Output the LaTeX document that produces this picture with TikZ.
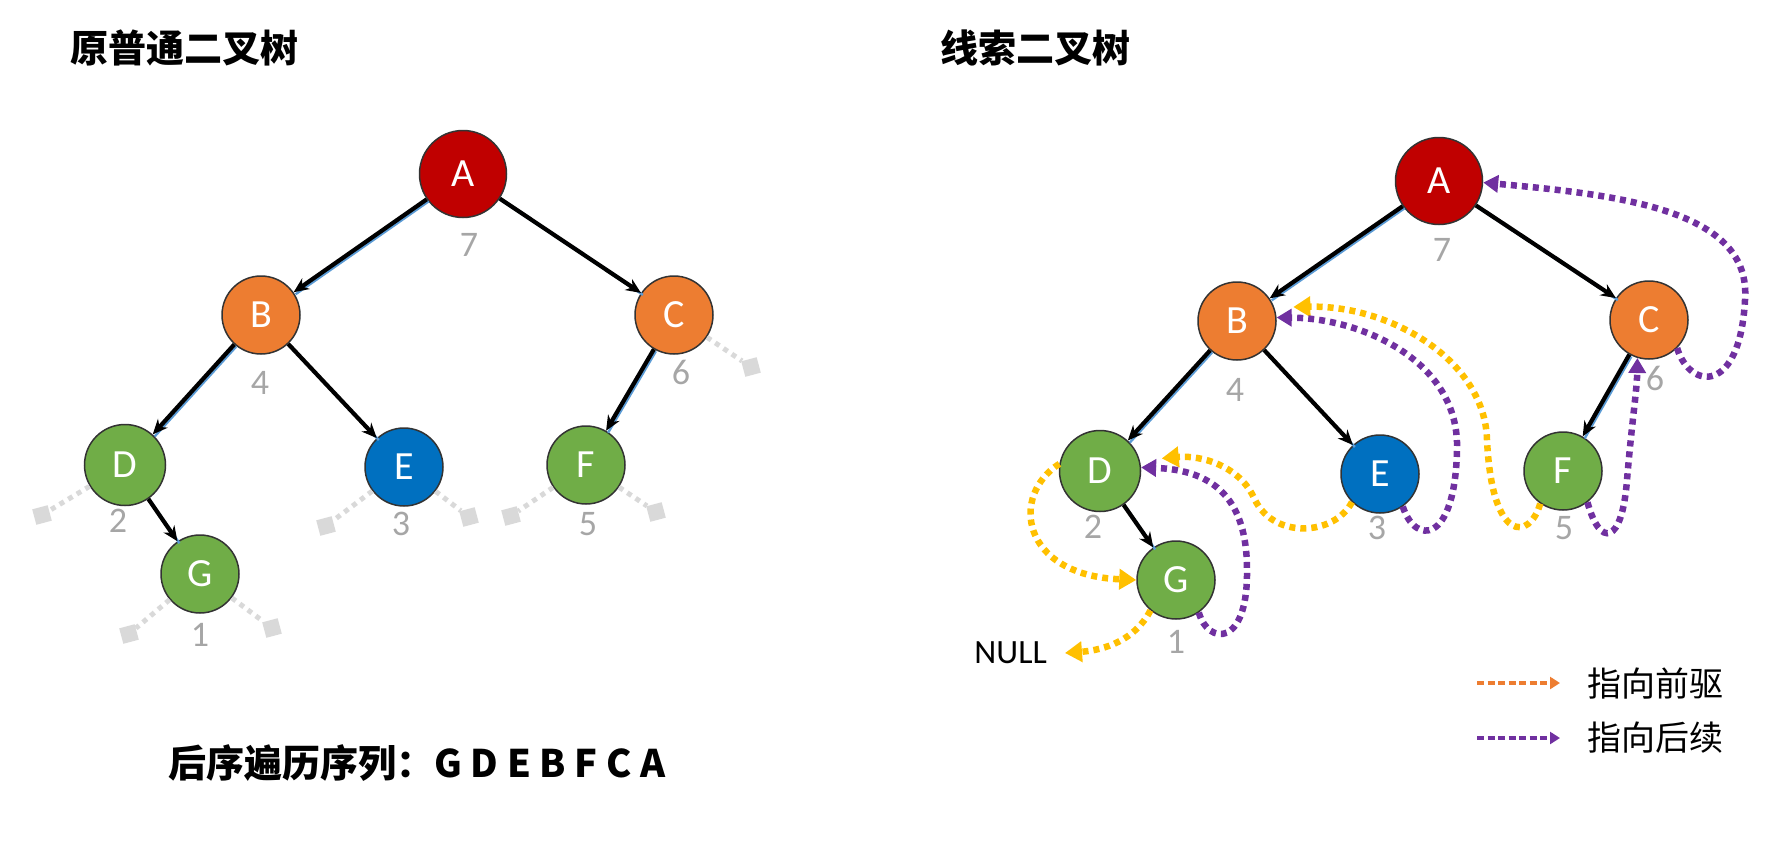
\documentclass[tikz,border=0pt]{standalone}
\usepackage{fontspec}
\setmainfont{Carlito}
\newfontfamily\cjkfont{Noto Sans CJK SC}
\usetikzlibrary{arrows.meta}
\definecolor{nodered}{HTML}{C00000}
\definecolor{nodeorange}{HTML}{ED7D31}
\definecolor{nodegreen}{HTML}{70AD47}
\definecolor{nodeblue}{HTML}{0070C0}
\definecolor{numgray}{HTML}{A6A6A6}
\definecolor{stubgray}{HTML}{D9D9D9}
\definecolor{edgeblue}{HTML}{5B9BD5}
\definecolor{threadpurple}{HTML}{7030A0}
\definecolor{threadyellow}{HTML}{FFC000}
\begin{document}
\begin{tikzpicture}[x=1pt,y=-1pt,
  tnode/.style={circle,draw=black!80,line width=1.5pt,minimum size=78pt,inner sep=0pt,text=white,font=\fontsize{40}{48}\selectfont},
  bignode/.style={tnode,minimum size=87pt},
  numlbl/.style={text=numgray,font=\fontsize{36}{40}\selectfont},
  tedge/.style={draw=black,line width=4.2pt,-{Stealth[length=15pt,width=13pt]}},
  bluedge/.style={draw=edgeblue,line width=2.4pt,transform canvas={shift={(2pt,-2pt)}}},
  stub/.style={draw=stubgray,line width=5pt,dash pattern=on 5pt off 5pt},
  nullsq/.style={fill=stubgray,minimum size=16pt,inner sep=0pt,rotate=15},
  pred/.style={draw=threadyellow,line width=6.5pt,dash pattern=on 6pt off 5pt,-{Triangle[length=17pt,width=20pt]}},
  succ/.style={draw=threadpurple,line width=6.5pt,dash pattern=on 6pt off 5pt,-{Triangle[length=15pt,width=17pt]}},
  legpred/.style={draw=nodeorange,line width=3.2pt,dash pattern=on 7pt off 3.5pt,-{Triangle[length=10pt,width=12pt]}},
  legsucc/.style={draw=threadpurple,line width=3.2pt,dash pattern=on 7pt off 3.5pt,-{Triangle[length=10pt,width=12pt]}},
  title/.style={font=\cjkfont\bfseries\fontsize{38}{44}\selectfont,anchor=west,inner sep=0pt},
  legtext/.style={font=\cjkfont\fontsize{34}{40}\selectfont,anchor=west,inner sep=0pt}
]
\useasboundingbox (0,0) rectangle (1781,865);

% titles
\node[title] (t1) at (70,48) {原普通二叉树};
\node[title] (t2) at (940,48) {线索二叉树};
\node[title] (seq) at (168,763) {后序遍历序列：G D E B F C A};

% ordinary tree
\node[bignode,fill=nodered] (A) at (463,174) {A};
\node[tnode,fill=nodeorange] (B) at (261,315) {B};
\node[tnode,fill=nodeorange] (C) at (674,315) {C};
\node[tnode,fill=nodegreen,minimum size=81pt] (D) at (125,465) {D};
\node[tnode,fill=nodeblue] (E) at (404,467) {E};
\node[tnode,fill=nodegreen] (F) at (586,465) {F};
\node[tnode,fill=nodegreen] (G) at (200,574) {G};
\node[numlbl] (nA) at (469,245) {7};
\node[numlbl] (nB) at (260,383) {4};
\node[numlbl] (nC) at (681,372) {6};
\node[numlbl] (nD) at (118,521) {2};
\node[numlbl] (nE) at (401,524) {3};
\node[numlbl] (nF) at (588,524) {5};
\node[numlbl] (nG) at (200,635) {1};
\draw[bluedge] (A) -- (B);
\draw[bluedge] (A) -- (C);
\draw[bluedge] (B) -- (D);
\draw[bluedge] (B) -- (E);
\draw[bluedge] (C) -- (F);
\draw[bluedge] (D) -- (G);
\draw[tedge] (A) -- (B);
\draw[tedge] (A) -- (C);
\draw[tedge] (B) -- (D);
\draw[tedge] (B) -- (E);
\draw[tedge] (C) -- (F);
\draw[tedge] (D) -- (G);
% empty children
\node[nullsq] (sC) at (751,367) {};
\node[nullsq] (sDl) at (42,515) {};
\node[nullsq] (sEl) at (326,526) {};
\node[nullsq] (sEr) at (469,517) {};
\node[nullsq] (sFl) at (511,516) {};
\node[nullsq] (sFr) at (656,512) {};
\node[nullsq] (sGl) at (129,634) {};
\node[nullsq] (sGr) at (272,628) {};
\draw[stub] (C) -- (sC);
\draw[stub] (D) -- (sDl);
\draw[stub] (E) -- (sEl);
\draw[stub] (E) -- (sEr);
\draw[stub] (F) -- (sFl);
\draw[stub] (F) -- (sFr);
\draw[stub] (G) -- (sGl);
\draw[stub] (G) -- (sGr);

% threaded tree
\node[bignode,fill=nodered] (rA) at (1439,181) {A};
\node[tnode,fill=nodeorange] (rB) at (1237,321) {B};
\node[tnode,fill=nodeorange] (rC) at (1649,320) {C};
\node[tnode,fill=nodegreen,minimum size=81pt] (rD) at (1100,471) {D};
\node[tnode,fill=nodeblue] (rE) at (1380,474) {E};
\node[tnode,fill=nodegreen] (rF) at (1563,471) {F};
\node[tnode,fill=nodegreen] (rG) at (1176,580) {G};
\node[numlbl] (rnA) at (1442,250) {7};
\node[numlbl] (rnB) at (1235,390) {4};
\node[numlbl] (rnC) at (1655,378) {6};
\node[numlbl] (rnD) at (1093,527) {2};
\node[numlbl] (rnE) at (1377,528) {3};
\node[numlbl] (rnF) at (1564,528) {5};
\node[numlbl] (rnG) at (1176,642) {1};
\draw[bluedge] (rA) -- (rB);
\draw[bluedge] (rA) -- (rC);
\draw[bluedge] (rB) -- (rD);
\draw[bluedge] (rB) -- (rE);
\draw[bluedge] (rC) -- (rF);
\draw[bluedge] (rD) -- (rG);
\draw[tedge] (rA) -- (rB);
\draw[tedge] (rA) -- (rC);
\draw[tedge] (rB) -- (rD);
\draw[tedge] (rB) -- (rE);
\draw[tedge] (rC) -- (rF);
\draw[tedge] (rD) -- (rG);
\node[font=\fontsize{34}{40}\selectfont,anchor=east,inner sep=0pt] (null) at (1047,653) {NULL};

% predecessor threads
\draw[pred] (rD.170) .. controls (1010,495) and (1020,575) .. (rG.west);
\draw[pred] (rG.230) .. controls (1135,640) and (1105,650) .. ([xshift=18pt]null.east);
\draw[pred,shorten >=22pt] (rE.225) .. controls (1335,535) and (1275,540) .. (1255,500)
  .. controls (1240,465) and (1200,455) .. (rD.15);
\draw[pred,shorten >=19pt] (rF.235) .. controls (1530,540) and (1492,545) .. (1487,440)
  .. controls (1485,360) and (1390,305) .. (rB.20);
% successor threads
\draw[succ] (rG.-55) .. controls (1208,645) and (1248,648) .. (1247,570)
  .. controls (1247,500) and (1215,470) .. (rD.5);
\draw[succ] (rE.-55) .. controls (1415,545) and (1455,545) .. (1457,450)
  .. controls (1460,360) and (1360,318) .. (rB.5);
\draw[succ] (rF.-52) .. controls (1600,548) and (1622,545) .. (1627,480)
  .. controls (1632,420) and (1637,390) .. (rC.253);
\draw[succ] (rC.-45) .. controls (1690,390) and (1740,395) .. (1745,300)
  .. controls (1752,210) and (1620,195) .. (rA.-2);

% legend
\coordinate (lp1) at (1477,683);
\coordinate (lp2) at (1560,683);
\coordinate (ls1) at (1477,738);
\coordinate (ls2) at (1560,738);
\draw[legpred] (lp1) -- (lp2);
\draw[legsucc] (ls1) -- (ls2);
\node[legtext] (lpt) at (1587,683) {指向前驱};
\node[legtext] (lst) at (1587,738) {指向后续};
\end{tikzpicture}
\end{document}
